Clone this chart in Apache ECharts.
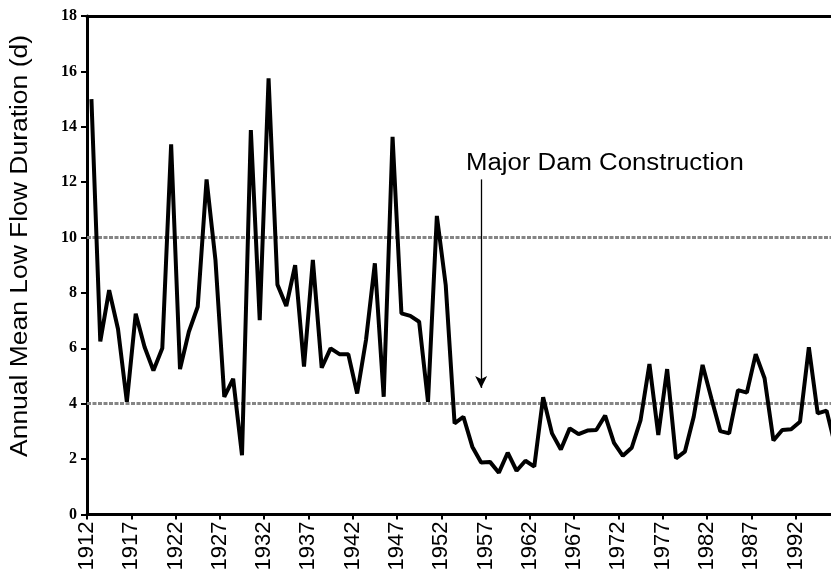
<!DOCTYPE html>
<html>
<head>
<meta charset="utf-8">
<script src="https://cdn.jsdelivr.net/npm/echarts@6/dist/echarts.min.js"></script>
<style>
  html, body { margin: 0; padding: 0; background: #fff; }
  #chart { width: 831px; height: 571px; }
</style>
</head>
<body>
<div id="chart"></div>
<script>
// annual mean low flow duration, one value per year from 1912
var firstYear = 1912;
var lowFlowDays = [
  15.0, 6.25, 8.1, 6.7, 4.07, 7.25, 6.05, 5.2, 6.0, 13.37,
  5.25, 6.6, 7.5, 12.1, 9.2, 4.25, 4.9, 2.14, 13.88, 7.02,
  15.75, 8.3, 7.53, 9.0, 5.34, 9.19, 5.3, 6.0, 5.79, 5.79,
  4.37, 6.3, 9.07, 4.25, 13.64, 7.26, 7.17, 6.96, 4.07, 10.78,
  8.29, 3.29, 3.53, 2.45, 1.88, 1.9, 1.51, 2.23, 1.58, 1.94,
  1.73, 4.23, 2.93, 2.35, 3.11, 2.9, 3.03, 3.05, 3.57, 2.59,
  2.12, 2.41, 3.41, 5.43, 2.87, 5.25, 2.03, 2.27, 3.53, 5.4,
  4.19, 3.01, 2.93, 4.49, 4.4, 5.79, 4.92, 2.67, 3.05, 3.08,
  3.35, 6.04, 3.65, 3.75, 2.45
];
var years = [];
for (var i = 0; i < lowFlowDays.length; i++) years.push(firstYear + i);

var refLevels = [10, 4];
var damYear = 1956.5;          // where the arrow points
var damArrow = [12.1, 4.57];   // arrow from / to (days)
var damText = 'Major Dam Construction';
var yTitle = 'Annual Mean Low Flow Duration (d)';

// each annual mean sits in the middle of its year
var seriesData = years.map(function (y, i) { return [y + 0.5, lowFlowDays[i]]; });

var chart = echarts.init(document.getElementById('chart'));

chart.setOption({
  animation: false,
  backgroundColor: '#fff',
  grid: { left: 87, right: 0, top: 16, bottom: 56.5, containLabel: false, outerBoundsMode: 'none' },
  xAxis: [{
    type: 'value',
    min: 1912,
    max: 1996,
    interval: 5,
    splitLine: { show: false },
    axisLine: { lineStyle: { color: '#000', width: 3 } },
    axisTick: { show: true, length: 5, lineStyle: { color: '#000', width: 2 } },
    axisLabel: {
      rotate: 90,
      margin: 7,
      color: '#000',
      fontFamily: 'Liberation Sans',
      fontSize: 22,
      showMaxLabel: false,
      formatter: function (v) { return String(v); }
    }
  }, {
    type: 'value',
    position: 'top',
    min: 1912,
    max: 1996,
    splitLine: { show: false },
    axisLine: { show: true, lineStyle: { color: '#000', width: 3 } },
    axisTick: { show: false },
    axisLabel: { show: false }
  }],
  yAxis: {
    type: 'value',
    min: 0,
    max: 18,
    interval: 2,
    splitLine: { show: false },
    axisLine: { show: true, lineStyle: { color: '#000', width: 3 } },
    axisTick: { show: true, length: 6, lineStyle: { color: '#000', width: 2 } },
    axisLabel: {
      margin: 10,
      color: '#000',
      fontFamily: 'Liberation Serif',
      fontWeight: 'bold',
      fontSize: 16
    }
  },
  series: [{
    type: 'line',
    data: seriesData,
    showSymbol: false,
    symbol: 'none',
    lineStyle: { color: '#000', width: 4 },
    z: 3,
    markLine: {
      silent: true,
      symbol: ['none', 'none'],
      label: { show: false },
      lineStyle: { color: '#858585', width: 3, type: [4, 1.5] },
      data: refLevels.map(function (v) { return { yAxis: v }; }),
      z: 1
    }
  }, {
    type: 'line',
    data: [],
    markLine: {
      silent: true,
      symbol: ['none', 'arrow'],
      symbolSize: [9, 12],
      label: { show: false },
      lineStyle: { color: '#000', width: 1.3, type: 'solid' },
      data: [[{ coord: [damYear, damArrow[0]] }, { coord: [damYear, damArrow[1]] }]]
    }
  }],
  graphic: [{
    type: 'text',
    x: 21,
    y: 246,
    rotation: Math.PI / 2,
    scaleX: 1.15,
    style: {
      text: yTitle,
      font: '23px "Liberation Sans"',
      fill: '#000',
      align: 'center',
      verticalAlign: 'middle'
    }
  }, {
    type: 'text',
    x: 466,
    y: 164,
    scaleX: 1.12,
    style: {
      text: damText,
      font: '23px "Liberation Sans"',
      fill: '#000',
      align: 'left',
      verticalAlign: 'middle'
    }
  }]
});
</script>
</body>
</html>
